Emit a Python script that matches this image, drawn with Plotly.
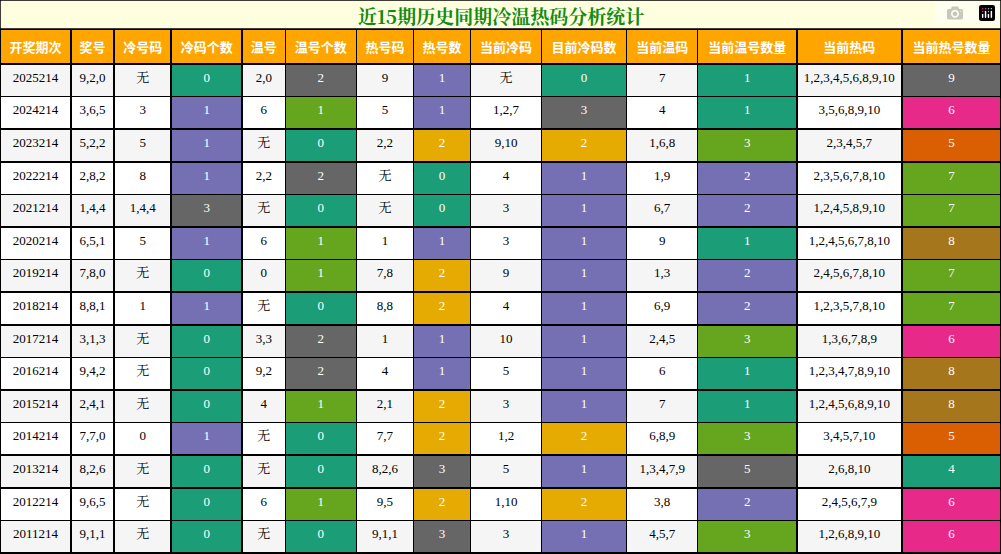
import plotly.graph_objects as go

headers = ["开奖期次","奖号","冷号码","冷码个数","温号","温号个数","热号码","热号数","当前冷码","目前冷码数","当前温码","当前温号数量","当前热码","当前热号数量"]
periods = ["2025214","2024214","2023214","2022214","2021214","2020214","2019214","2018214","2017214","2016214","2015214","2014214","2013214","2012214","2011214"]
draws = ["9,2,0","3,6,5","5,2,2","2,8,2","1,4,4","6,5,1","7,8,0","8,8,1","3,1,3","9,4,2","2,4,1","7,7,0","8,2,6","9,6,5","9,1,1"]
cold = ["无","3","5","8","1,4,4","5","无","1","无","无","无","0","无","无","无"]
cold_n = [0,1,1,1,3,1,0,1,0,0,0,1,0,0,0]
warm = ["2,0","6","无","2,2","无","6","0","无","3,3","9,2","4","无","无","6","无"]
warm_n = [2,1,0,2,0,1,1,0,2,2,1,0,0,1,0]
hot = ["9","5","2,2","无","无","1","7,8","8,8","1","4","2,1","7,7","8,2,6","9,5","9,1,1"]
hot_n = [1,1,2,0,0,1,2,2,1,1,2,2,3,2,3]
cur_cold = ["无","1,2,7","9,10","4","3","3","9","4","10","5","3","1,2","5","1,10","3"]
cur_cold_n = [0,3,2,1,1,1,1,1,1,1,1,2,1,2,1]
cur_warm = ["7","4","1,6,8","1,9","6,7","9","1,3","6,9","2,4,5","6","7","6,8,9","1,3,4,7,9","3,8","4,5,7"]
cur_warm_n = [1,1,3,2,2,1,2,2,3,1,1,3,5,2,3]
cur_hot = ["1,2,3,4,5,6,8,9,10","3,5,6,8,9,10","2,3,4,5,7","2,3,5,6,7,8,10","1,2,4,5,8,9,10","1,2,4,5,6,7,8,10","2,4,5,6,7,8,10","1,2,3,5,7,8,10","1,3,6,7,8,9","1,2,3,4,7,8,9,10","1,2,4,5,6,8,9,10","3,4,5,7,10","2,6,8,10","2,4,5,6,7,9","1,2,6,8,9,10"]
cur_hot_n = [9,6,5,7,7,8,7,7,6,8,8,5,4,6,6]

TEAL, PUR, GRAY, GRN, GOLD, PINK, ORG, BRN = "#1b9e77","#7570b3","#666666","#66a61e","#e6ab02","#e7298a","#d95f02","#a6761d"
maps = {
    3: {0: TEAL, 1: PUR, 3: GRAY},
    5: {2: GRAY, 1: GRN, 0: TEAL},
    7: {1: PUR, 2: GOLD, 0: TEAL, 3: GRAY},
    9: {0: TEAL, 3: GRAY, 2: GOLD, 1: PUR},
    11: {1: TEAL, 3: GRN, 2: PUR, 5: GRAY},
    13: {9: GRAY, 6: PINK, 5: ORG, 7: GRN, 8: BRN, 4: TEAL},
}
cols = [periods, draws, cold, cold_n, warm, warm_n, hot, hot_n, cur_cold, cur_cold_n, cur_warm, cur_warm_n, cur_hot, cur_hot_n]
widths = [71,43,57,71,43,71,57,57,71,85,71,99,105,99]
base = ["#f5f5f5" if i % 2 == 0 else "#ffffff" for i in range(len(periods))]
fills, fcolors = [], []
for ci, col in enumerate(cols):
    if ci in maps:
        fills.append([maps[ci][v] for v in col])
        fcolors.append(["#ffffff"] * len(col))
    else:
        fills.append(base)
        fcolors.append(["#000000"] * len(col))

fig = go.Figure(go.Table(
    columnwidth=widths,
    domain=dict(x=[0, 1], y=[0, 1 - 29/554]),
    header=dict(values=["<b>%s</b>" % h for h in headers], fill_color="#ffa500", line=dict(color="black", width=1.5),
                font=dict(color="white", size=13, family="Noto Sans CJK SC"), align="center", height=35),
    cells=dict(values=cols, fill_color=fills, line=dict(color="black", width=1.5),
               font=dict(color=fcolors, size=13, family="Liberation Serif, Noto Serif CJK SC, serif"),
               align="center", height=32.6),
))
fig.add_shape(type="rect", xref="paper", yref="paper", x0=0, x1=1, y0=1 - 29/554, y1=1,
              fillcolor="#ffffe0", line=dict(color="black", width=1.5))
fig.add_annotation(text="<b>近15期历史同期冷温热码分析统计</b>", xref="paper", yref="paper", x=0.5, y=1 - 15/554,
                   yanchor="middle", showarrow=False,
                   font=dict(size=19, color="#138a13", family="Noto Serif CJK SC, Noto Sans CJK SC"))
fig.update_layout(width=1001, height=554, margin=dict(l=0, r=0, t=0, b=0), paper_bgcolor="white")
fig.write_html("out.html", post_script="document.body.style.margin='0';document.body.style.overflow='hidden';")
